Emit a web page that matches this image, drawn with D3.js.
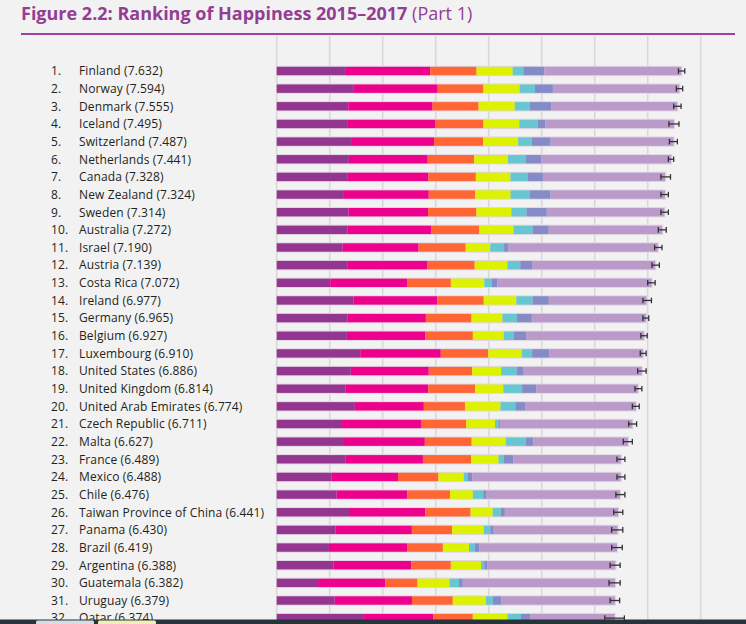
<!DOCTYPE html>
<html>
<head>
<meta charset="utf-8">
<script src="https://d3js.org/d3.v7.min.js"></script>
<style>
  html, body { margin: 0; padding: 0; background: #f2f2f2; }
  svg { display: block; font-family: 'Open Sans', Helvetica, Arial, sans-serif; }
  .label { font-size: 12px; letter-spacing: 0.12px; fill: #231f20; }
  .grid line { stroke: #d8d8d8; stroke-width: 1.6; }
  .ci { stroke: #333; stroke-width: 1.3; fill: none; }
</style>
</head>
<body>
<div id="chart"></div>
<script>
// Figure 2.2 – ranking and the six explanatory factors plus dystopia + residual
const countries = ["Finland", "Norway", "Denmark", "Iceland", "Switzerland", "Netherlands", "Canada",
  "New Zealand", "Sweden", "Australia", "Israel", "Austria", "Costa Rica", "Ireland", "Germany",
  "Belgium", "Luxembourg", "United States", "United Kingdom", "United Arab Emirates",
  "Czech Republic", "Malta", "France", "Mexico", "Chile", "Taiwan Province of China", "Panama",
  "Brazil", "Argentina", "Guatemala", "Uruguay", "Qatar"];
const scores = [7.632, 7.594, 7.555, 7.495, 7.487, 7.441, 7.328, 7.324, 7.314, 7.272, 7.190, 7.139,
  7.072, 6.977, 6.965, 6.927, 6.910, 6.886, 6.814, 6.774, 6.711, 6.627, 6.489, 6.488, 6.476, 6.441,
  6.430, 6.419, 6.388, 6.382, 6.379, 6.374];

const gdp = [1.305, 1.456, 1.351, 1.343, 1.420, 1.361, 1.330, 1.268, 1.355, 1.340, 1.244, 1.341,
  1.010, 1.448, 1.340, 1.324, 1.576, 1.398, 1.301, 1.475, 1.233, 1.270, 1.293, 1.038, 1.131, 1.365,
  1.112, 0.986, 1.073, 0.781, 1.093, 1.649];
const social = [1.592, 1.582, 1.590, 1.644, 1.549, 1.488, 1.532, 1.601, 1.501, 1.573, 1.433, 1.504,
  1.459, 1.583, 1.474, 1.483, 1.520, 1.471, 1.559, 1.301, 1.489, 1.525, 1.466, 1.252, 1.331, 1.436,
  1.438, 1.474, 1.468, 1.268, 1.459, 1.303];
const health = [0.874, 0.861, 0.868, 0.914, 0.927, 0.878, 0.896, 0.876, 0.913, 0.910, 0.888, 0.891,
  0.817, 0.876, 0.861, 0.894, 0.896, 0.819, 0.883, 0.776, 0.854, 0.884, 0.908, 0.761, 0.808, 0.857,
  0.759, 0.675, 0.744, 0.608, 0.771, 0.748];
const freedom = [0.681, 0.686, 0.683, 0.677, 0.660, 0.638, 0.653, 0.669, 0.659, 0.647, 0.464, 0.617,
  0.632, 0.614, 0.586, 0.583, 0.632, 0.547, 0.533, 0.670, 0.543, 0.645, 0.520, 0.479, 0.431, 0.418,
  0.597, 0.493, 0.570, 0.604, 0.625, 0.654];
const generosity = [0.202, 0.286, 0.284, 0.353, 0.256, 0.333, 0.321, 0.365, 0.285, 0.361, 0.262,
  0.242, 0.143, 0.307, 0.273, 0.188, 0.196, 0.291, 0.354, 0.280, 0.064, 0.376, 0.098, 0.069, 0.197,
  0.151, 0.125, 0.110, 0.062, 0.179, 0.130, 0.256];
const corruption = [0.393, 0.340, 0.408, 0.138, 0.357, 0.295, 0.291, 0.389, 0.383, 0.302, 0.082,
  0.224, 0.101, 0.306, 0.280, 0.240, 0.321, 0.133, 0.272, 0.185, 0.034, 0.142, 0.176, 0.095, 0.061,
  0.078, 0.063, 0.088, 0.054, 0.071, 0.155, 0.171];
const dystopia = [2.585, 2.383, 2.371, 2.426, 2.318, 2.448, 2.305, 2.156, 2.218, 2.139, 2.817, 2.320,
  2.910, 1.843, 2.151, 2.215, 1.769, 2.227, 1.912, 2.087, 2.494, 1.785, 2.028, 2.794, 2.517, 2.136,
  2.336, 2.593, 2.417, 2.871, 2.146, 1.593];

// 95% confidence interval ends
const ciLow = [7.58, 7.54, 7.49, 7.40, 7.41, 7.39, 7.25, 7.25, 7.25, 7.20, 7.13, 7.08, 7.00, 6.91,
  6.91, 6.87, 6.86, 6.81, 6.76, 6.71, 6.64, 6.54, 6.42, 6.42, 6.40, 6.36, 6.32, 6.32, 6.29, 6.27,
  6.29, 6.19];
const ciHigh = [7.70, 7.66, 7.63, 7.59, 7.56, 7.49, 7.43, 7.39, 7.39, 7.35, 7.27, 7.22, 7.14, 7.07,
  7.02, 6.99, 6.97, 6.97, 6.89, 6.84, 6.79, 6.71, 6.57, 6.57, 6.57, 6.53, 6.53, 6.52, 6.48, 6.48,
  6.47, 6.56];

const factorKeys = ["gdp", "social", "health", "freedom", "generosity", "corruption", "dystopia"];
const factorColors = ["#943690", "#ec008c", "#ff6633", "#dcf200", "#66c7d1", "#848bc6", "#b99ac9"];
const gridTicks = [0, 1, 2, 3, 4, 5, 6, 7, 8];

const width = 746, height = 624;

const rows = countries.map((c, i) => ({
  rank: i + 1, country: c, score: scores[i], lo: ciLow[i], hi: ciHigh[i],
  gdp: gdp[i], social: social[i], health: health[i], freedom: freedom[i],
  generosity: generosity[i], corruption: corruption[i], dystopia: dystopia[i]
}));

const svg = d3.select("#chart").append("svg")
  .attr("width", width)
  .attr("height", height);

svg.append("rect").attr("width", width).attr("height", height).attr("fill", "#f2f2f2");

// title
const title = svg.append("text")
  .attr("x", 21).attr("y", 20)
  .style("font-size", "18px")
  .style("fill", "#943d92");
title.append("tspan").style("font-weight", "bold").text("Figure 2.2: Ranking of Happiness 2015–2017");
title.append("tspan").text(" (Part 1)");

svg.append("line")
  .attr("x1", 21).attr("x2", 735).attr("y1", 34).attr("y2", 34)
  .attr("stroke", "#a43ca2").attr("stroke-width", 2);

const x = d3.scaleLinear().domain([0, 8]).range([276.7, 700.7]);
const y = d3.scalePoint().domain(countries).range([71, 71 + 31 * 17.65]);
const barH = 8.4;

// vertical grid
svg.append("g").attr("class", "grid")
  .selectAll("line").data(gridTicks).enter().append("line")
  .attr("x1", d => x(d)).attr("x2", d => x(d))
  .attr("y1", 36).attr("y2", height);

const series = d3.stack().keys(factorKeys)(rows);
const color = d3.scaleOrdinal(factorKeys, factorColors);

// light halo behind each bar
svg.append("g").selectAll("rect").data(rows).enter().append("rect")
  .attr("x", x(0))
  .attr("y", d => y(d.country) - barH / 2 - 1)
  .attr("width", d => x(d.score) - x(0) + 1.2)
  .attr("height", barH + 2)
  .attr("fill", "#e2d6e6");

svg.append("g").selectAll("g").data(series).enter().append("g")
  .attr("fill", s => color(s.key))
  .selectAll("rect").data(s => s).enter().append("rect")
  .attr("x", d => x(d[0]))
  .attr("y", d => y(d.data.country) - barH / 2)
  .attr("width", d => Math.max(0, x(d[1]) - x(d[0])))
  .attr("height", barH);

// confidence whiskers
const ci = svg.append("g").attr("class", "ci").selectAll("g").data(rows).enter().append("g");
ci.append("line")
  .attr("x1", d => x(d.lo)).attr("x2", d => x(d.hi))
  .attr("y1", d => y(d.country)).attr("y2", d => y(d.country));
ci.append("line")
  .attr("x1", d => x(d.lo)).attr("x2", d => x(d.lo))
  .attr("y1", d => y(d.country) - 2.8).attr("y2", d => y(d.country) + 2.8);
ci.append("line")
  .attr("x1", d => x(d.hi)).attr("x2", d => x(d.hi))
  .attr("y1", d => y(d.country) - 2.8).attr("y2", d => y(d.country) + 2.8);

// rank + country labels
const lab = svg.append("g").selectAll("g").data(rows).enter().append("g");
lab.append("text").attr("class", "label")
  .attr("x", 51).attr("y", d => y(d.country)).attr("dy", "0.36em")
  .text(d => d.rank + ".");
lab.append("text").attr("class", "label")
  .attr("x", 79).attr("y", d => y(d.country)).attr("dy", "0.36em")
  .text(d => d.country + " (" + d.score.toFixed(3) + ")");

// screen taskbar strip at the bottom of the capture
svg.append("rect").attr("x", 0).attr("y", 619.5).attr("width", width).attr("height", 5)
  .attr("fill", "#27343c");
svg.append("rect").attr("x", 36).attr("y", 620.5).attr("width", 58).attr("height", 4)
  .attr("rx", 1.5).attr("fill", "#d9dde0");
svg.append("rect").attr("x", 98).attr("y", 620.5).attr("width", 58).attr("height", 4)
  .attr("rx", 1.5).attr("fill", "#f3efb4");
</script>
</body>
</html>
